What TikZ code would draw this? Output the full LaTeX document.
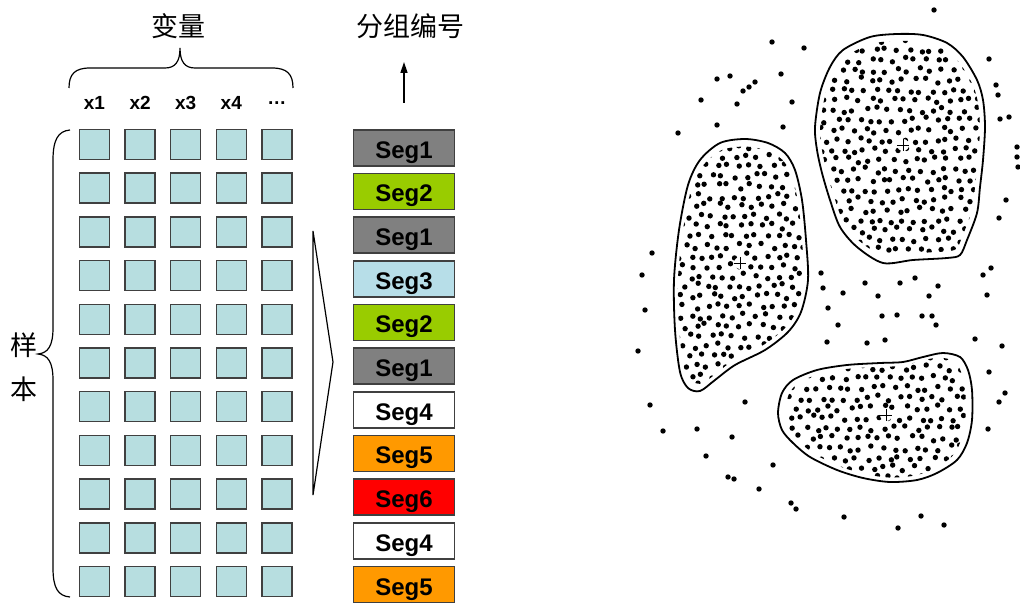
\documentclass[tikz,border=0pt]{standalone}
\usepackage{fontspec}
\setmainfont{Liberation Sans}
\newfontfamily\cjk{Noto Sans CJK SC}
\usetikzlibrary{arrows.meta}
\definecolor{cellblue}{HTML}{B7DEE0}
\definecolor{edgegray}{HTML}{404040}
\definecolor{seggray}{HTML}{808080}
\definecolor{seggreen}{HTML}{99CC00}
\definecolor{segblue}{HTML}{B7DEE8}
\definecolor{segorange}{HTML}{FF9900}
\definecolor{segred}{HTML}{FF0000}
\tikzset{
  cell/.style={draw=edgegray, fill=cellblue, line width=1.5pt, minimum width=30pt, minimum height=30pt, inner sep=0pt, outer sep=0pt},
  segbox/.style={draw=edgegray, line width=1.5pt, minimum width=101pt, minimum height=36pt, inner sep=0pt, text height=21pt, text depth=0pt, font=\fontsize{24}{26}\selectfont\bfseries},
  varlabel/.style={font=\fontsize{19}{20}\selectfont\bfseries, inner sep=0pt},
  cjklabel/.style={font=\cjk\fontsize{27}{30}\selectfont, inner sep=0pt},
  brace/.style={line width=1.2pt},
  blob/.style={line width=1.8pt},
  dot/.style={fill=black},
}
\begin{document}
\begin{tikzpicture}[x=1pt,y=-1pt]
\useasboundingbox (0,0) rectangle (1020,604);
% ---------- left part ----------
\node[cjklabel] (varhead) at (178,26) {变量};
\draw[brace] (69,88) .. controls (69,74) and (75,68) .. (90,68) -- (165,68)
  .. controls (175,68) and (180,62) .. (180,48)
  .. controls (180,62) and (185,68) .. (195,68) -- (272,68)
  .. controls (287,68) and (293,74) .. (293,88);
\foreach \t [count=\k] in {x1,x2,x3,x4,…}{
  \node[varlabel] (var\k) at ({94.5+45.6*(\k-1)},103) {\t};
}
\foreach \r in {1,...,11}{
  \foreach \c in {1,...,5}{
    \node[cell] (c-\r-\c) at ({94.5+45.6*(\c-1)},{144.5+43.7*(\r-1)}) {};
  }
}
\draw[brace] (70,130) .. controls (58,131) and (53,140) .. (53,160) -- (53,328)
  .. controls (53,346) and (48,353) .. (38,354)
  .. controls (48,355) and (53,362) .. (53,380) -- (53,568)
  .. controls (53,588) and (58,596) .. (70,597);
\node[cjklabel] (samp1) at (24,345) {样};
\node[cjklabel] (samp2) at (24,389) {本};
% funnel
\draw[line width=1.2pt, line join=miter] (313,231) -- (333,362) -- (313,495) -- cycle;
% segments
\foreach \lab/\col [count=\k] in {Seg1/seggray, Seg2/seggreen, Seg1/seggray, Seg3/segblue, Seg2/seggreen, Seg1/seggray, Seg4/white, Seg5/segorange, Seg6/segred, Seg4/white, Seg5/segorange}{
  \node[segbox, fill=\col] (s\k) at (404,{147.8+43.67*(\k-1)}) {\lab};
}
\node[cjklabel] (grouphead) at (410,26) {分组编号};
\coordinate (arrowfoot) at (404,103);
\coordinate (arrowtip) at (404,62);
\draw[line width=1.5pt, -{Triangle[length=11pt,width=7pt]}] (arrowfoot) -- (arrowtip);
% ---------- right part: clusters ----------
\pgfmathsetseed{4242}
% cluster A
\begin{scope}
\clip[scale around={0.94:(740,265)}] plot[smooth cycle] coordinates {(745,139) (768,143) (785,153) (795,170) (802,200) (806,240) (808,280) (801,312) (788,332) (765,350) (735,365) (715,380) (700,391) (688,388) (680,372) (675,330) (674,280) (679,230) (688,185) (700,160) (720,143)};
\foreach \i in {0,...,13}{\foreach \j in {0,...,26}{
  \fill[dot] ({668+11*\i+5.5*mod(\j,2)+3*rand},{136+10*\j+3*rand}) circle (2.7);
}}
\end{scope}
\draw[blob] plot[smooth cycle] coordinates {(745,139) (768,143) (785,153) (795,170) (802,200) (806,240) (808,280) (801,312) (788,332) (765,350) (735,365) (715,380) (700,391) (688,388) (680,372) (675,330) (674,280) (679,230) (688,185) (700,160) (720,143)};
% cluster B
\begin{scope}
\clip[scale around={0.94:(900,150)}] plot[smooth cycle] coordinates {(870,37) (897,34) (923,35) (947,43) (963,57) (977,80) (983,100) (985,127) (983,160) (980,187) (977,213) (967,240) (960,255) (947,258) (913,260) (883,263) (857,247) (840,227) (830,200) (822,173) (817,150) (815,127) (820,93) (830,67) (843,50)};
\foreach \i in {0,...,16}{\foreach \j in {0,...,24}{
  \fill[dot] ({810+11*\i+5.5*mod(\j,2)+3*rand},{30+10*\j+3*rand}) circle (2.7);
}}
\end{scope}
\draw[blob] plot[smooth cycle] coordinates {(870,37) (897,34) (923,35) (947,43) (963,57) (977,80) (983,100) (985,127) (983,160) (980,187) (977,213) (967,240) (960,255) (947,258) (913,260) (883,263) (857,247) (840,227) (830,200) (822,173) (817,150) (815,127) (820,93) (830,67) (843,50)};
% cluster C
\begin{scope}
\clip[scale around={0.93:(877,418)}] plot[smooth cycle] coordinates {(778,413) (782,393) (793,380) (817,370) (847,365) (880,363) (903,362) (923,357) (943,353) (960,357) (968,370) (972,390) (972,420) (967,443) (957,460) (937,473) (917,480) (890,482) (863,478) (837,470) (810,457) (793,443) (782,430)};
\foreach \i in {0,...,18}{\foreach \j in {0,...,14}{
  \fill[dot] ({773+11*\i+5.5*mod(\j,2)+3*rand},{348+10*\j+3*rand}) circle (2.7);
}}
\end{scope}
\draw[blob] plot[smooth cycle] coordinates {(778,413) (782,393) (793,380) (817,370) (847,365) (880,363) (903,362) (923,357) (943,353) (960,357) (968,370) (972,390) (972,420) (967,443) (957,460) (937,473) (917,480) (890,482) (863,478) (837,470) (810,457) (793,443) (782,430)};
% centre marks
\foreach \cx/\cy in {740/263, 903/145, 886/415}{
  \fill[white] (\cx,\cy) circle (6);
  \draw[line width=0.9pt] ({\cx-6},\cy) -- ({\cx+6},\cy) (\cx,{\cy-6}) -- (\cx,{\cy+6});
}
% outliers
\foreach \x/\y in {934/10, 772/42, 804/48, 717/79, 730/76, 743/91, 749/87, 755/82, 781/74, 701/100, 737/104, 792/102, 717/125, 783/127, 678/133, 989/59, 996/85, 998/95, 1000/119, 1009/117, 1017/147, 1017/157, 1018/167, 1006/200, 999/218, 991/268, 983/275, 987/295, 652/253, 642/275, 821/273, 823/288, 843/293, 865/283, 878/296, 900/283, 915/278, 938/286, 929/296, 828/308, 838/325, 882/316, 897/315, 922/316, 932/316, 936/325, 827/342, 867/343, 885/340, 975/339, 1002/346, 989/372, 1005/393, 999/402, 988/429, 645/310, 638/351, 650/405, 745/402, 663/431, 697/429, 732/437, 706/456, 773/465, 728/477, 734/479, 759/489, 791/503, 796/509, 844/517, 898/528, 921/516, 944/525}{
  \fill[dot] (\x,\y) circle (2.7);
}
\end{tikzpicture}
\end{document}
